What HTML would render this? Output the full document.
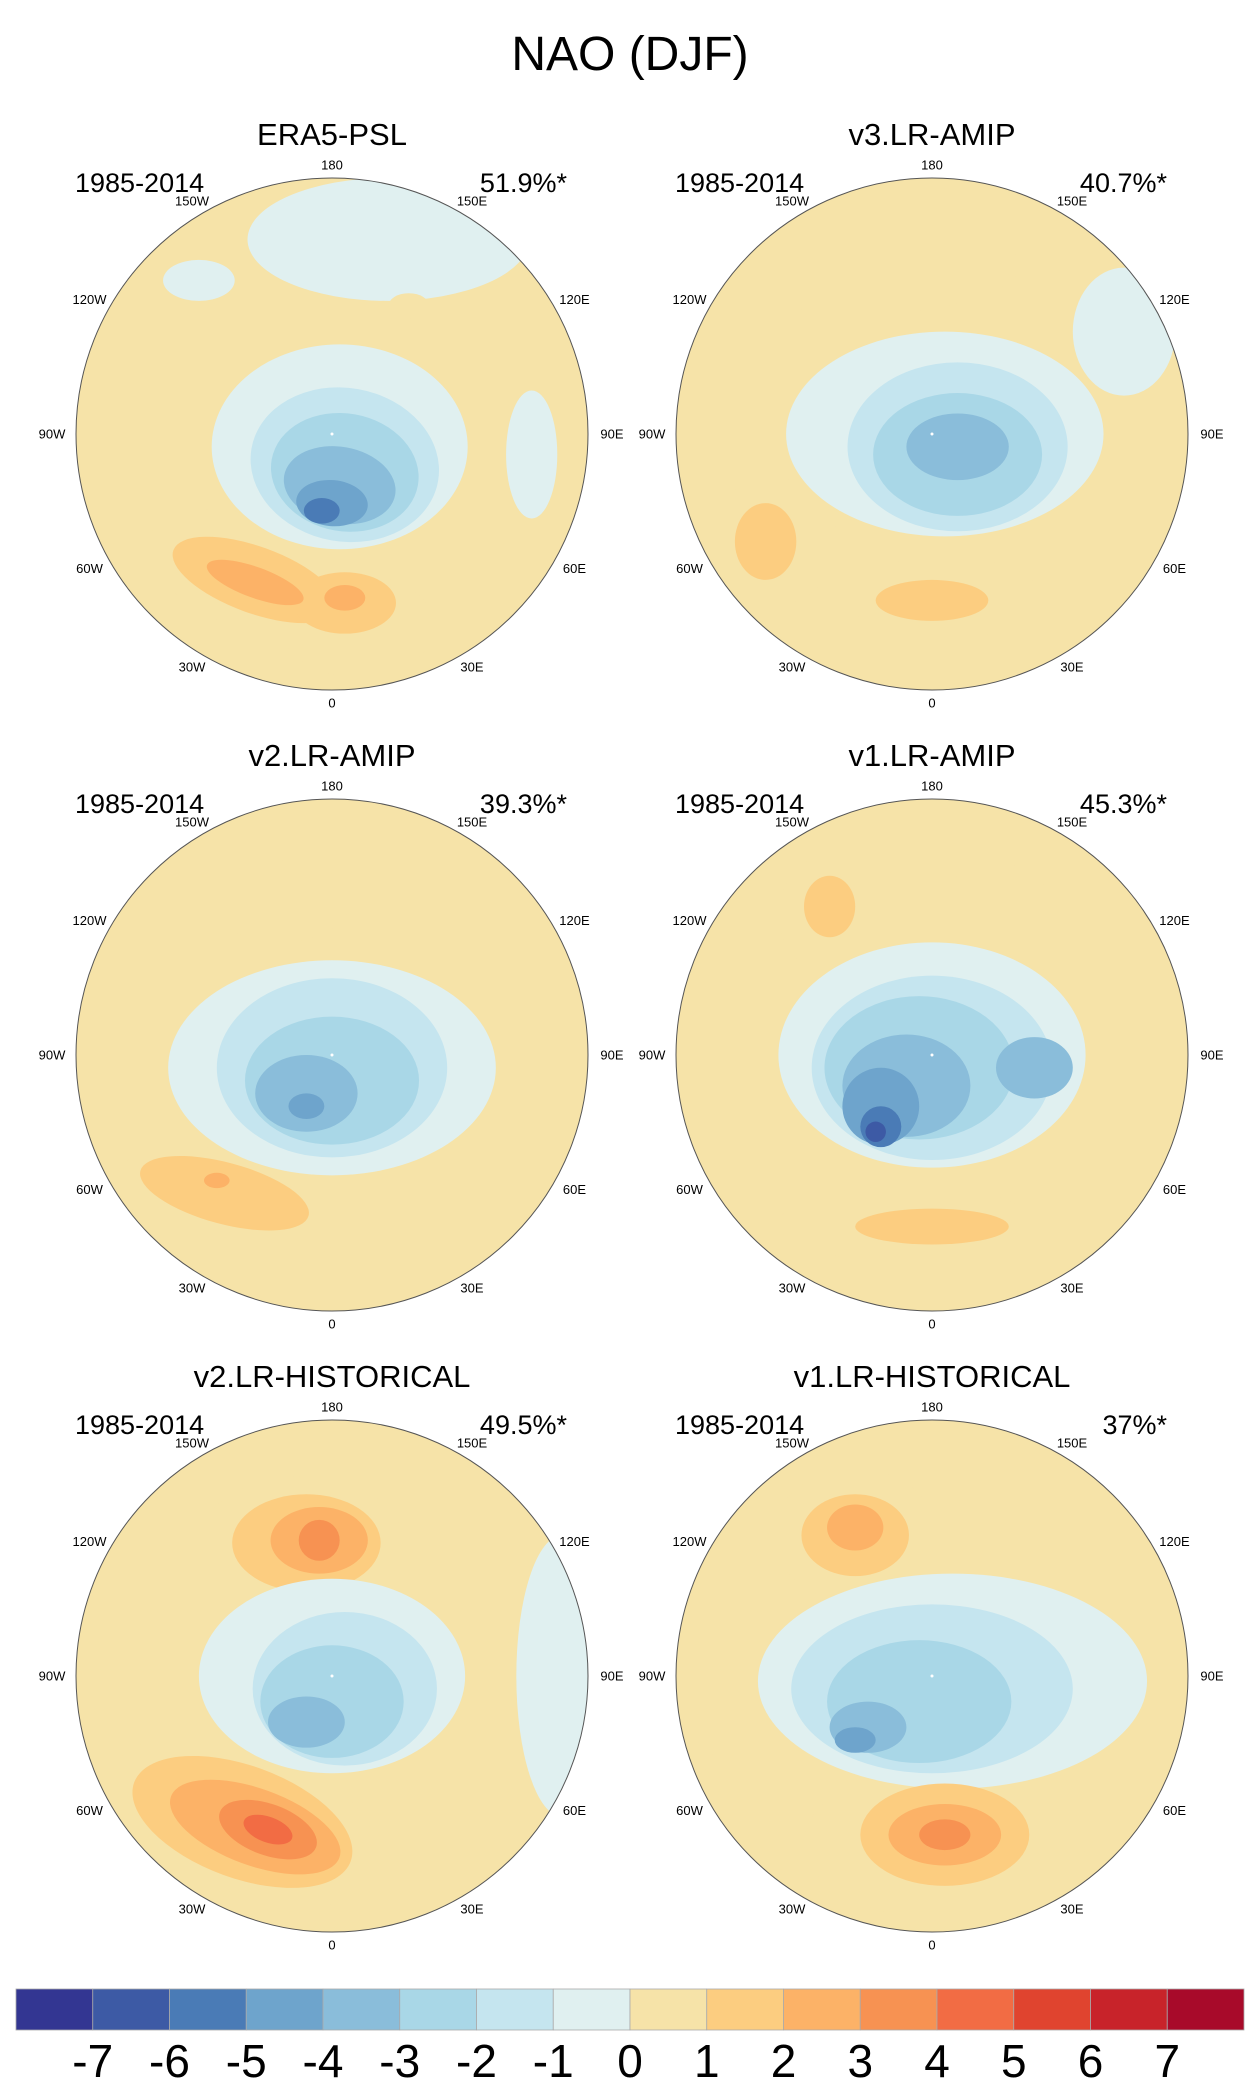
<!DOCTYPE html>
<html><head><meta charset="utf-8"><title>NAO (DJF)</title>
<style>
html,body{margin:0;padding:0;background:#fff;}
body{width:1258px;height:2086px;overflow:hidden;font-family:"Liberation Sans",sans-serif;}
</style></head>
<body>
<svg id="fig" width="1258" height="2086" viewBox="0 0 1258 2086" xmlns="http://www.w3.org/2000/svg" font-family="Liberation Sans, sans-serif">
<text x="630" y="70" font-size="48" text-anchor="middle">NAO (DJF)</text>
<g id="panels"></g>
<g id="cbar"></g>
</svg>
<script>
// Contour levels and colors
const levels = [-8,-7,-6,-5,-4,-3,-2,-1,0,1,2,3,4,5,6,7,8];
const levelColors = ["#333692","#3d5aa5","#4a7bb6","#6ea4cc","#8abdda","#a9d7e7","#c5e5ef","#e0f0f0","#f6e3a8","#fccd80","#fcb267","#f79252","#f26c44","#e0442f","#c8232a","#a80a2a"];
const cbarTickLabels = ["-7","-6","-5","-4","-3","-2","-1","0","1","2","3","4","5","6","7"];
const lonLabels = ["0","30E","60E","90E","120E","150E","180","150W","120W","90W","60W","30W"];
const lonAngles = [0,30,60,90,120,150,180,210,240,270,300,330];

const panelTitles = ["ERA5-PSL","v3.LR-AMIP","v2.LR-AMIP","v1.LR-AMIP","v2.LR-HISTORICAL","v1.LR-HISTORICAL"];
const panelPeriods = ["1985-2014","1985-2014","1985-2014","1985-2014","1985-2014","1985-2014"];
const panelVariance = ["51.9%*","40.7%*","39.3%*","45.3%*","49.5%*","37%*"];

// Anomaly blobs: [value, x, y, rx, ry, rotationDeg] in units of map radius
const blobs0 = [[-0.5,0.22,-0.76,0.55,0.24,0],[-0.5,-0.52,-0.6,0.14,0.08,0],[0.5,-0.3,0.55,0.44,0.22,20],[0.5,0.1,0.75,0.3,0.2,0],
 [-0.5,0.03,0.05,0.5,0.4,0],[-0.5,0.78,0.08,0.1,0.25,0],
 [-1.5,0.05,0.12,0.37,0.3,10],[-2.5,0.05,0.15,0.29,0.23,10],[-3.5,0.03,0.2,0.22,0.15,10],[-4.5,0.0,0.27,0.14,0.09,5],[-5.5,-0.04,0.3,0.07,0.05,0],
 [0.5,0.3,-0.5,0.08,0.05,0],[1.5,-0.3,0.57,0.34,0.13,20],[1.5,0.05,0.66,0.2,0.12,0],[2.5,-0.3,0.58,0.2,0.06,20],[2.5,0.05,0.64,0.08,0.05,0]];
const blobs1 = [[0.5,-0.15,-0.62,0.5,0.15,-5],[0.5,-0.62,0.42,0.25,0.25,0],[0.5,0.05,0.64,0.38,0.16,0],
 [-0.5,0.05,0.0,0.62,0.4,0],[-0.5,0.75,-0.4,0.2,0.25,0],
 [-1.5,0.1,0.05,0.43,0.33,0],[-2.5,0.1,0.08,0.33,0.24,0],[-3.5,0.1,0.05,0.2,0.13,0],
 [1.5,-0.65,0.42,0.12,0.15,0],[1.5,0.0,0.65,0.22,0.08,0]];
const blobs2 = [[0.5,-0.2,-0.6,0.27,0.16,0],[0.5,-0.4,0.58,0.45,0.2,15],[-0.5,0.0,0.05,0.64,0.42,0],[-1.5,0.0,0.05,0.45,0.35,0],[-2.5,0.0,0.1,0.34,0.25,0],[-3.5,-0.1,0.15,0.2,0.15,0],[-4.5,-0.1,0.2,0.07,0.05,0],
 [1.5,-0.42,0.54,0.34,0.12,15],[2.5,-0.45,0.49,0.05,0.03,0]];
const blobs3 = [[0.5,-0.35,-0.55,0.25,0.25,0],[0.5,0.25,-0.5,0.25,0.25,0],[1.5,-0.4,-0.58,0.1,0.12,0],[0.5,-0.1,0.66,0.5,0.15,0],
 [-0.5,0.0,0.0,0.6,0.44,0],[-1.5,0.0,0.05,0.47,0.36,0],[-2.5,-0.05,0.05,0.37,0.28,0],[-3.5,-0.1,0.12,0.25,0.2,0],[-3.5,0.4,0.05,0.15,0.12,0],
 [-4.5,-0.2,0.2,0.15,0.15,0],[-5.5,-0.2,0.28,0.08,0.08,0],[-6.5,-0.22,0.3,0.04,0.04,0],
 [1.5,0.0,0.67,0.3,0.07,0]];
const blobs4 = [[0.5,-0.12,-0.52,0.4,0.26,0],[1.5,-0.1,-0.52,0.29,0.19,0],[2.5,-0.05,-0.53,0.19,0.13,0],[3.5,-0.05,-0.53,0.08,0.08,0],
 [0.5,-0.35,0.57,0.55,0.3,20],
 [-0.5,0.0,0.0,0.52,0.38,0],[-0.5,0.9,0.0,0.18,0.55,0],[-1.5,0.05,0.05,0.36,0.3,0],[-2.5,0.0,0.1,0.28,0.22,0],[-3.5,-0.1,0.18,0.15,0.1,0],
 [1.5,-0.35,0.57,0.45,0.22,20],[2.5,-0.3,0.59,0.35,0.15,20],[3.5,-0.25,0.6,0.2,0.1,20],[4.5,-0.25,0.6,0.1,0.05,20]];
const blobs5 = [[0.5,-0.3,-0.55,0.32,0.26,0],[1.5,-0.3,-0.55,0.21,0.16,0],[2.5,-0.3,-0.58,0.11,0.09,0],
 [0.5,-0.55,0.45,0.35,0.3,0],[0.5,0.05,0.65,0.55,0.3,0],
 [-0.5,0.08,0.02,0.76,0.42,0],[-1.5,0.0,0.05,0.55,0.33,0],[-2.5,-0.05,0.1,0.36,0.24,0],[-3.5,-0.25,0.2,0.15,0.1,0],[-4.5,-0.3,0.25,0.08,0.05,0],
 [1.5,0.05,0.62,0.33,0.2,0],[2.5,0.05,0.62,0.22,0.12,0],[3.5,0.05,0.62,0.1,0.06,0]];
const panelBlobs = [blobs0,blobs1,blobs2,blobs3,blobs4,blobs5];

const NS = "http://www.w3.org/2000/svg";
function mk(tag, attrs, parent){ const e=document.createElementNS(NS,tag); for(const k in attrs) e.setAttribute(k,attrs[k]); if(parent) parent.appendChild(e); return e; }
function colorFor(v){ let i=levels.findIndex((l,j)=>v>=l && v<levels[j+1]); if(i<0) i=v<0?0:levelColors.length-1; return levelColors[i]; }

const R = 256;
const centersX = [332, 932];
const centersY = [434, 1055, 1676];
const panelsG = document.getElementById('panels');
panelTitles.forEach((title, p) => {
  const cx = centersX[p%2], cy = centersY[Math.floor(p/2)];
  const g = mk('g', {}, panelsG);
  
  
  const clip = mk('clipPath', {id:'clip'+p}, g);
  mk('circle', {cx, cy, r:R}, clip);
  const map = mk('g', {'clip-path':'url(#clip'+p+')'}, g);
  const base = mk('circle', {cx, cy, r:R, fill: colorFor(0.5)}, map);
  
  
  panelBlobs[p].forEach(b => {
    const e = mk('ellipse', {cx: cx + b[1]*R, cy: cy + b[2]*R, rx: b[3]*R, ry: b[4]*R, fill: colorFor(b[0]),
      transform: 'rotate(' + b[5] + ' ' + (cx + b[1]*R) + ' ' + (cy + b[2]*R) + ')'}, map);
    
    
  });
  const pole = mk('circle', {cx, cy, r:1.5, fill:'#fff'}, map);
  
  
  const border = mk('circle', {cx, cy, r:R, fill:'none', stroke:'#555', 'stroke-width':1}, g);
  
  
  lonAngles.forEach((a, i) => {
    const rad = a*Math.PI/180;
    const t = mk('text', {x: cx + (R+24)*Math.sin(rad), y: cy + (R+13)*Math.cos(rad), 'font-size':13, 'text-anchor':'middle', 'dominant-baseline':'central'}, g);
    t.textContent = lonLabels[i];
    
    
  });
  const tt = mk('text', {x:cx, y:cy-289, 'font-size':31, 'text-anchor':'middle'}, g);
  tt.textContent = title;
  
  
  const pt = mk('text', {x:cx-257, y:cy-242, 'font-size':27}, g);
  pt.textContent = panelPeriods[p];
  
  
  const vt = mk('text', {x:cx+235, y:cy-242, 'font-size':27, 'text-anchor':'end'}, g);
  vt.textContent = panelVariance[p];
  
  
});

// Colorbar
const cb = document.getElementById('cbar');
const cbX0 = 16, cbX1 = 1244, cbY = 1989, cbH = 41;
const bw = (cbX1 - cbX0) / levelColors.length;
levelColors.forEach((c, i) => {
  const r = mk('rect', {x: cbX0 + i*bw, y: cbY, width: bw, height: cbH, fill: c, stroke:'#aaa', 'stroke-width':0.8}, cb);
  
  
});
cbarTickLabels.forEach((l, i) => {
  const t = mk('text', {x: cbX0 + (i+1)*bw, y: 2077, 'font-size':46, 'text-anchor':'middle'}, cb);
  t.textContent = l;
  
  
});
</script>
</body></html>
